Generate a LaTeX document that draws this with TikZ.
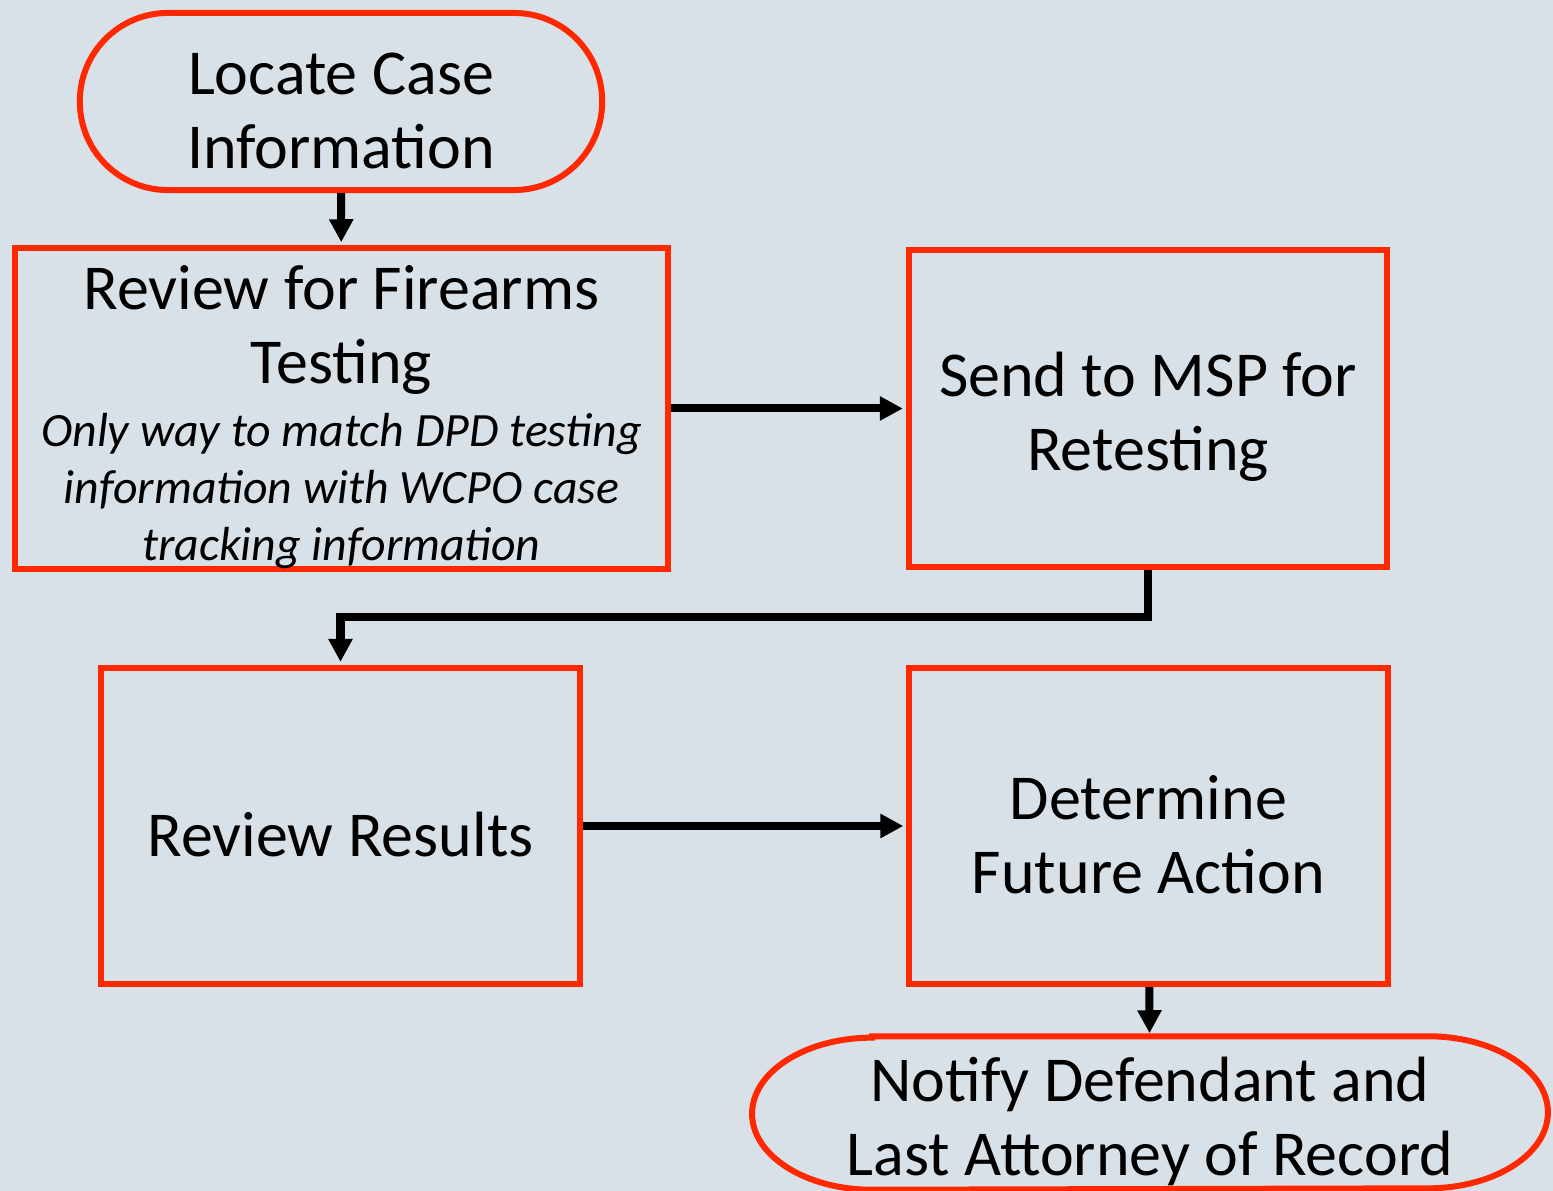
\documentclass[tikz,border=0pt]{standalone}
\usepackage{fontspec}
\setmainfont{Carlito}
\usepackage{xcolor}
\usetikzlibrary{arrows.meta}
\definecolor{bgblue}{RGB}{217,225,232}
\definecolor{boxred}{RGB}{255,40,0}
\newcommand{\itnote}[1]{{\fontsize{13.6}{16.2}\selectfont\itshape #1}}
\newcommand{\topstrut}{\rule{0pt}{17.3pt}}

\begin{document}
\begin{tikzpicture}[x=0.01cm,y=-0.01cm,
   every node/.style={font=\fontsize{18.2}{21.1}\selectfont,align=center,inner sep=0pt},
   redline/.style={draw=boxred,line width=0.06cm},
   box/.style={redline,minimum width=4.78cm,minimum height=3.16cm},
   term/.style={redline,rounded corners=0.88cm,minimum width=5.22cm,minimum height=1.77cm},
   flow/.style={line width=0.08cm,shorten >=0.03cm,-{Triangle[length=0.23cm,width=0.23cm]}}]
\fill[bgblue] (0,0) rectangle (1553,1191);
\useasboundingbox (0,0) rectangle (1553,1191);

\node[term] (locate) at (341,101.5) {\topstrut Locate Case\\Information};
\node[box,minimum width=6.53cm] (review) at (341.5,408.5)
   {\topstrut Review for Firearms\\Testing\\[-3.1pt]
    \itnote{Only way to match DPD testing}\\[-4.9pt]
    \itnote{information with WCPO case}\\[-4.9pt]
    \itnote{tracking information}};
\node[box] (send) at (1148,408.5) {\topstrut Send to MSP for\\Retesting};
\node[box] (results) at (340.5,826) {\topstrut Review Results};
\node[box] (determine) at (1148.5,826) {\topstrut Determine\\Future Action};
\node[minimum width=7.94cm,minimum height=1.52cm] (notify) at (1150,1113)
   {\topstrut Notify Defendant and\\Last Attorney of Record};
\draw[redline] ([xshift=1.2cm]notify.north west) -- ([xshift=-1.2cm]notify.north east)
   arc[start angle=90,end angle=-90,x radius=1.2cm,y radius=0.76cm]
   -- ([xshift=1.2cm]notify.south west)
   arc[start angle=270,end angle=90,x radius=1.2cm,y radius=0.76cm] -- cycle;

\draw[flow] (locate) -- (review);
\draw[flow] (review) -- (send);
\draw[flow] (send.south) -- ++(0,47) -| (results.north);
\draw[flow] (results) -- (determine);
\draw[flow] (determine) -- (notify);
\end{tikzpicture}
\end{document}
